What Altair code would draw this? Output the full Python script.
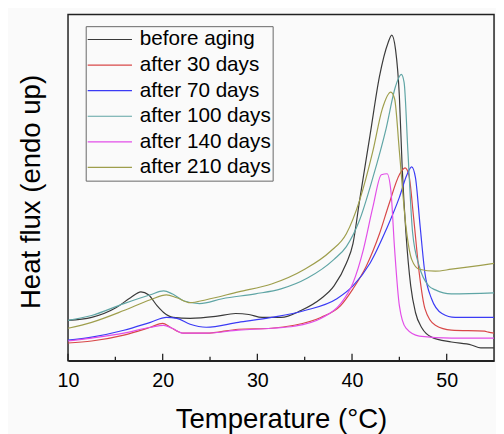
import altair as alt
import pandas as pd

series_names = ["before aging", "after 30 days", "after 70 days",
                "after 100 days", "after 140 days", "after 210 days"]
series_colors = ["#3a3a3a", "#d84848", "#3b3bf5", "#5fa5a5", "#e24ee8", "#9e9e4c"]

before_T = [10, 12.5, 15.1, 16.6, 17.7, 18.5, 19.4, 20.1, 21.1, 22.9, 25.6, 27.7, 29.1, 30.5,
            32.5, 34.6, 36.7, 38.1, 39.4, 40.1, 40.8, 41.9, 42.9, 43.8, 44.2, 44.6, 45.0, 45.3,
            45.7, 46.2, 46.7, 47.4, 48.4, 50.5, 52.6, 53.6, 55]
before_h = [41, 44, 54, 64, 70, 67, 56, 49, 44, 43, 45, 48, 47, 44,
            44, 51, 63, 76, 99, 119, 163, 229, 289, 323, 331, 316, 269, 196,
            129, 76, 49, 33, 24, 19, 16, 13, 13]

d30_T = [10, 12.5, 15.9, 18.7, 20, 20.8, 22.2, 24.6, 28, 31.5, 33.9, 36.7, 38.8, 40.1, 41.5,
         42.9, 43.9, 45, 45.6, 46, 46.5, 47.1, 47.7, 48.8, 50.5, 54, 54.4, 55]
d30_h = [18, 20, 26, 34, 38, 34, 28, 28, 32, 33, 36, 44, 56, 73, 96,
         129, 159, 189, 196, 189, 146, 89, 53, 36, 31, 30, 29, 28]

d70_T = [10, 12.5, 15.9, 18.7, 20.4, 21.5, 22.9, 24.6, 28, 31.5, 35, 38.4, 40.1, 41.9, 43.6,
         45, 45.8, 46.3, 46.7, 47.2, 47.7, 48.4, 49.5, 50.9, 55]
d70_h = [21, 24, 31, 39, 44, 43, 37, 34, 39, 44, 51, 63, 76, 99, 133,
         166, 189, 197, 186, 136, 89, 63, 48, 44, 44]

d100_T = [10, 12.5, 15.9, 18.7, 20.1, 21, 22.2, 23.9, 26.3, 29.8, 32.5, 35.3, 38.1, 39.4, 40.8,
          42.2, 43.6, 44.6, 45.2, 45.5, 45.9, 46.4, 47.1, 48.1, 48.8, 50.5, 55]
d100_h = [41, 46, 58, 67, 71, 68, 61, 58, 63, 68, 73, 84, 103, 116, 143,
          186, 236, 279, 291, 283, 213, 130, 96, 76, 72, 68, 69]

d140_T = [10, 12.5, 15.9, 18.7, 20.1, 21, 22.2, 24.6, 28, 31.5, 33.9, 36.7, 38.8, 40.1, 41.2,
          42.2, 43.1, 43.7, 44.1, 44.5, 45, 45.7, 47.1, 50.5, 55]
d140_h = [20, 23, 28, 34, 36, 33, 28, 28, 31, 33, 35, 43, 58, 79, 113,
          156, 189, 190, 173, 113, 56, 33, 25, 23, 23]

d210_T = [10, 12.5, 15.9, 18.7, 20.4, 21.5, 22.9, 24.6, 28, 31.5, 35, 37.7, 39.4, 40.8, 42.2,
          43.2, 44.1, 44.5, 45, 45.7, 46.3, 47.1, 48.8, 50.5, 55]
d210_h = [33, 39, 51, 62, 67, 64, 59, 62, 70, 78, 93, 111, 129, 163, 213,
          256, 273, 266, 213, 136, 103, 93, 91, 93, 99]

major_ticks = [10, 20, 30, 40, 50]
minor_ticks = [15, 25, 35, 45]

all_T = [before_T, d30_T, d70_T, d100_T, d140_T, d210_T]
all_h = [before_h, d30_h, d70_h, d100_h, d140_h, d210_h]

rows = []
for name, ts, hs in zip(series_names, all_T, all_h):
    for i, (t, h) in enumerate(zip(ts, hs)):
        rows.append({"series": name, "T": t, "h": h, "order": i})
df = pd.DataFrame(rows)

FONT = "Liberation Sans"
W, H = 433, 352

xscale = alt.Scale(domain=[10, 55], nice=False, zero=False)
yscale = alt.Scale(domain=[0, H], nice=False, zero=False)

lines = alt.Chart(df).mark_line(strokeWidth=1.2, interpolate="monotone").encode(
    x=alt.X("T:Q", scale=xscale,
            axis=alt.Axis(values=major_ticks, ticks=False, grid=False,
                          labelFontSize=20, labelFont=FONT, labelColor="#000",
                          labelPadding=10, labelFlush=False,
                          domainColor="#222", domainWidth=1.5,
                          title="Temperature (°C)", titleFontSize=28, titleFont=FONT,
                          titleFontWeight="normal", titleColor="#000",
                          titleY=60, titleBaseline="middle")),
    y=alt.Y("h:Q", scale=yscale,
            axis=alt.Axis(labels=False, ticks=False, domain=False, grid=False,
                          title="Heat flux (endo up)", titleFontSize=28, titleFont=FONT,
                          titleFontWeight="normal", titleColor="#000",
                          titleX=-37, titleY=180, titleAngle=-90,
                          titleAlign="center", titleBaseline="middle")),
    color=alt.Color("series:N", sort=series_names,
                    scale=alt.Scale(domain=series_names, range=series_colors),
                    legend=alt.Legend(orient="none", legendX=18, legendY=12, title=None,
                                      symbolType="stroke", symbolSize=2025,
                                      symbolStrokeWidth=1.2, clipHeight=25,
                                      labelFontSize=21, labelFont=FONT, labelColor="#000",
                                      labelOffset=7, padding=1, rowPadding=1,
                                      strokeColor="#666", labelLimit=300)),
    detail="series:N",
    order="order:Q",
)

major = alt.Chart(pd.DataFrame({"t": major_ticks})).mark_rule(color="#222", strokeWidth=1.3).encode(
    x=alt.X("t:Q", scale=xscale), y=alt.value(H), y2=alt.value(H - 7))
minor = alt.Chart(pd.DataFrame({"t": minor_ticks})).mark_rule(color="#222", strokeWidth=1.3).encode(
    x=alt.X("t:Q", scale=xscale), y=alt.value(H), y2=alt.value(H - 4))

chart = alt.layer(lines, major, minor).properties(
    width=W, height=H,
    autosize=alt.AutoSizeParams(type="none"),
    padding={"left": 61, "top": 3, "right": 2, "bottom": 71},
    background="#fafafa",
).configure_view(stroke="#222", strokeWidth=1.5)

chart.save("out.html", embed_options={"renderer": "svg", "actions": False})
